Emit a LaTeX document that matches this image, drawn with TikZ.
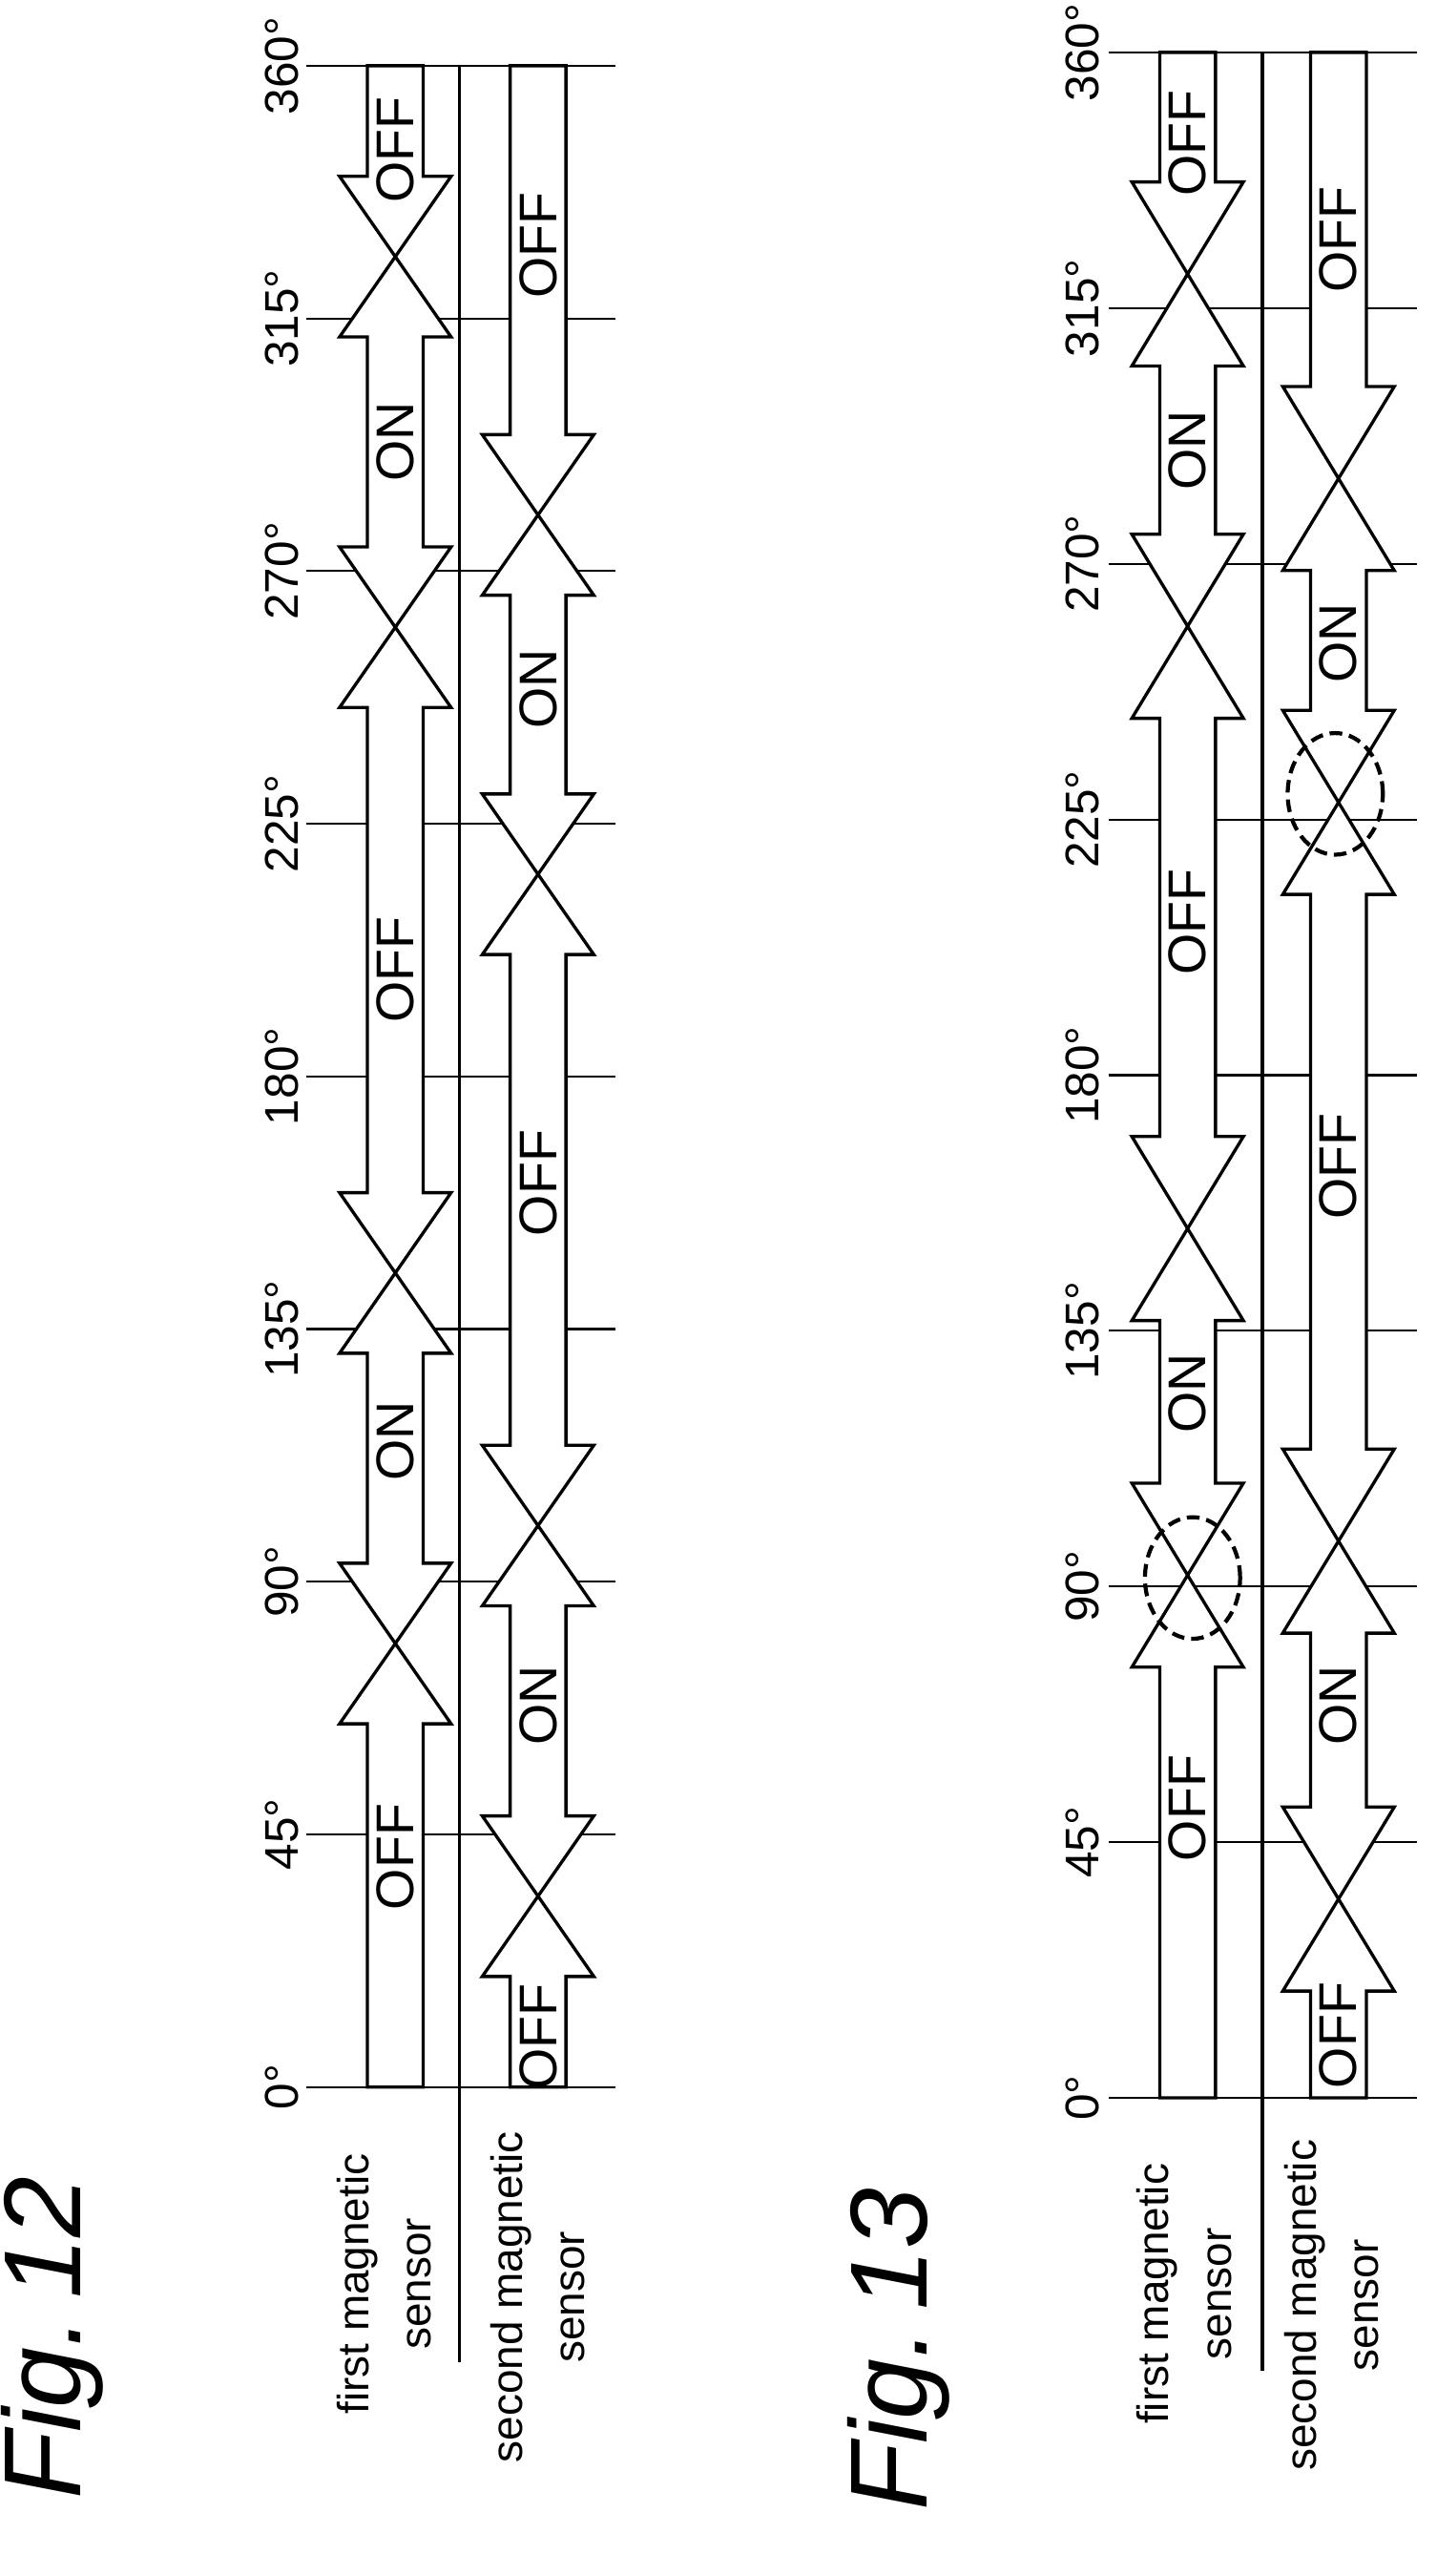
\documentclass[tikz,border=0pt]{standalone}
\usepackage{fontspec}
\setmainfont{Liberation Sans}
\tikzset{
  tick/.style={line width=3.5pt},
  seginside/.style={fill=white},
  segedge/.style={draw, line width=5.5pt, line join=miter},
  angle/.style={rotate=90, font=\fontsize{82}{90}\selectfont},
  state/.style={rotate=90, font=\fontsize{92}{100}\selectfont},
  sensor/.style={rotate=90, align=center, font=\fontsize{76}{108}\selectfont},
  figlabel/.style={rotate=90, font=\fontsize{190}{200}\selectfont\itshape},
  hole/.style={line width=7pt, dash pattern=on 22pt off 12pt}
}
% one block arrow: centre x, lower end, upper end, lower head, upper head (degrees)
\newcommand{\segpath}[6]{%
  \pgfmathsetmacro\wb{#5>0?34:17}%
  \pgfmathsetmacro\wt{#6>0?34:17}%
  \path[#1] (#2,#3) -- (#2-\wb,#3+#5) -- (#2-17,#3+#5) -- (#2-17,#4-#6)
    -- (#2-\wt,#4-#6) -- (#2,#4) -- (#2+\wt,#4-#6) -- (#2+17,#4-#6)
    -- (#2+17,#3+#5) -- (#2+\wb,#3+#5) -- cycle;}
\begin{document}
\begin{tikzpicture}[x=1mm, y=-1mm]
\useasboundingbox (0,0) rectangle (876,1570);
%Fig. 12
\begin{scope}[shift={(0,1272)}, y={(0,3.422mm)}]
  \foreach \a in {45,90,...,315} \draw[tick] (187,\a) -- (375,\a);
  %fill, then outline
  \foreach \s in {seginside,segedge}{
    \foreach \xc/\lo/\hi/\hl/\hu in {241/0/79/0/14.3, 241/79/145/14.3/14.3, 241/145/260/14.3/14.3,
        241/260/326/14.3/14.3, 241/326/360/14.3/0, 328/0/34/0/14.3, 328/34/100/14.3/14.3,
        328/100/216/14.3/14.3, 328/216/280/14.3/14.3, 328/280/360/14.3/0}
      {\segpath{\s}{\xc}{\lo}{\hi}{\hl}{\hu}}
  }
  \draw[tick] (187,0) -- (375,0);
  \draw[tick] (187,360) -- (375,360);
  \draw[line width=6pt] (280,360) -- (280,-49);
  \foreach \a in {0,45,...,360} \node[angle] (a12-\a) at (172,\a) {\a°};
  \foreach \xc/\a/\t in {241/41/OFF, 241/115/ON, 241/199/OFF, 241/293/ON, 241/345/OFF,
      328/9/OFF, 328/68/ON, 328/161/OFF, 328/249/ON, 328/328/OFF}
    \node[state] (s12-\xc-\a) at (\xc,\a) {\t};
\end{scope}
%Fig. 13
\begin{scope}[shift={(0,1278.6)}, y={(0,3.463mm)}]
  \foreach \a in {45,90,...,315} \draw[tick] (676,\a) -- (864,\a);
  \foreach \s in {seginside,segedge}{
    \foreach \xc/\lo/\hi/\hl/\hu in {724/0/92/0/16.2, 724/92/153/16.2/16.2, 724/153/259/16.2/16.2,
        724/259/321/16.2/16.2, 724/321/360/16.2/0, 816/0/35/0/16.2, 816/35/98/16.2/16.2,
        816/98/228/16.2/16.2, 816/228/285/16.2/16.2, 816/285/360/16.2/0}
      {\segpath{\s}{\xc}{\lo}{\hi}{\hl}{\hu}}
  }
  \draw[tick] (676,0) -- (864,0);
  \draw[tick] (676,360) -- (864,360);
  \draw[line width=6pt] (769.5,360) -- (769.5,-48);
  \draw[hole] (727,91.5) ellipse [x radius=29, y radius=10.7];
  \draw[hole] (814,229.5) ellipse [x radius=29, y radius=10.7];
  \foreach \a in {0,45,...,360} \node[angle] (a13-\a) at (660,\a) {\a°};
  \foreach \xc/\a/\t in {724/51/OFF, 724/124/ON, 724/207/OFF, 724/290/ON, 724/344/OFF,
      816/11/OFF, 816/69/ON, 816/164/OFF, 816/256/ON, 816/327/OFF}
    \node[state] (s13-\xc-\a) at (\xc,\a) {\t};
\end{scope}
%labels
\node[sensor] (first12) at (234,1392) {first magnetic\\sensor};
\node[sensor] (second12) at (328,1400) {second magnetic\\sensor};
\node[sensor] (first13) at (722,1398) {first magnetic\\sensor};
\node[sensor] (second13) at (812,1405) {second magnetic\\sensor};
\node[figlabel] (fig12) at (32,1425) {Fig.\,12};
\node[figlabel] (fig13) at (548,1432) {Fig.\,13};
\end{tikzpicture}
\end{document}
